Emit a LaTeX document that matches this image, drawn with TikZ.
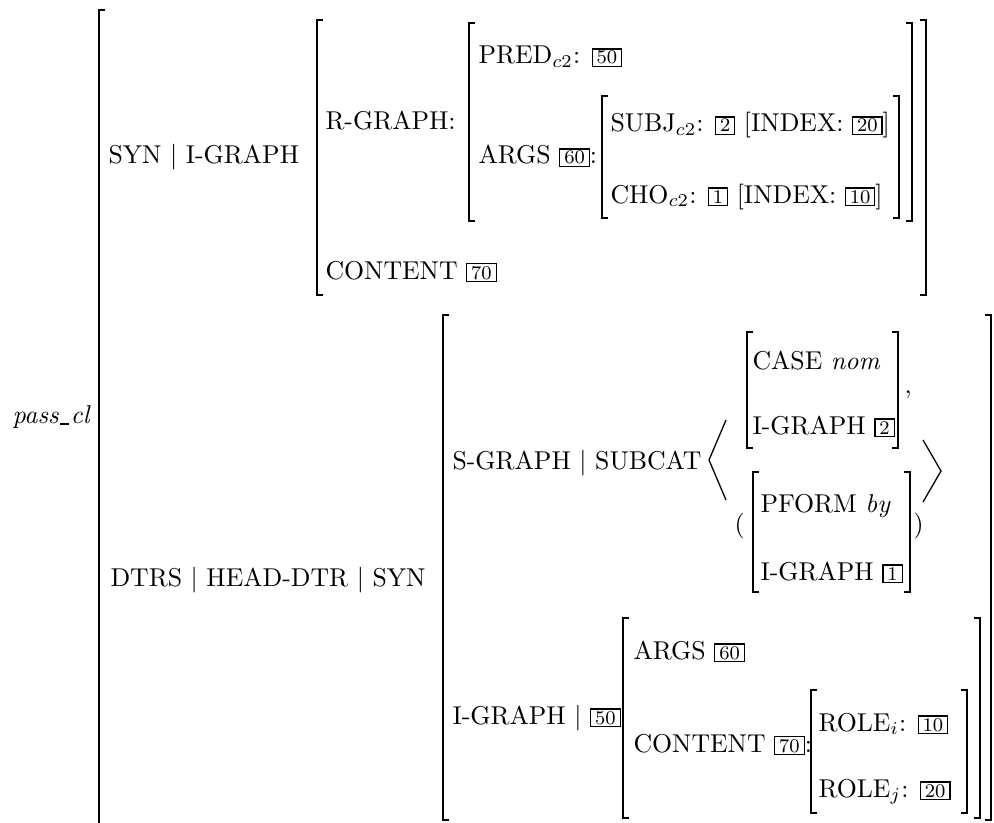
\documentclass[tikz,border=0pt]{standalone}
\newcommand{\avmtag}[1]{{\setlength{\fboxsep}{0.6pt}\setlength{\fboxrule}{0.45pt}\fbox{\kern0.9pt\fontsize{7.5}{8}\selectfont #1\kern0.9pt}}}
\newcommand{\avmL}[3]{\draw[brk] ({#1+6},#2) -- (#1,#2) -- (#1,#3) -- ({#1+6},#3);}
\newcommand{\avmR}[3]{\draw[brk] ({#1-6},#2) -- (#1,#2) -- (#1,#3) -- ({#1-6},#3);}
\tikzset{avm/.style={anchor=base west,inner sep=0pt},
  brk/.style={line width=0.75pt},
  ang/.style={line width=0.5pt}}
\begin{document}
\begin{tikzpicture}[x=0.388pt,y=-0.388pt]
	\useasboundingbox (0,0) rectangle (994,823);
	\node[avm] (passcl) at (12,423) {\textit{pass\kern0.6pt\rule[-0.6pt]{3.6pt}{0.45pt}\kern0.6pt cl}};
	\draw[brk] (105,10) -- (99,10) -- (99,823);
	% SYN part
	\node[avm] (synig) at (108,164) {SYN $|$ I-GRAPH};
	\avmL{317}{20}{295}
	\avmR{926}{20}{295}
	\node[avm] (rgraph) at (325,129) {R-GRAPH:};
	\avmL{469}{23}{221}
	\avmR{912}{23}{221}
	\node[avm] (pred) at (478,64) {PRED$_{c2}$: \avmtag{50}};
	\node[avm] (args) at (478,164) {ARGS \avmtag{60}:};
	\avmL{602}{96}{218}
	\avmR{899}{96}{218}
	\node[avm] (subj) at (610,132) {SUBJ$_{c2}$: \avmtag{2} [INDEX: \avmtag{20}]};
	\node[avm] (cho) at (610,203) {CHO$_{c2}$: \avmtag{1} [INDEX: \avmtag{10}]};
	\node[avm] (content) at (325,279) {CONTENT \avmtag{70}};
	% DTRS part
	\node[avm] (dtrs) at (110,586) {DTRS $|$ HEAD-DTR $|$ SYN};
	\avmL{443}{315}{820}
	\avmR{991}{315}{820}
	\node[avm] (sgraph) at (452,469) {S-GRAPH $|$ SUBCAT};
	\draw[ang] (726,420) -- (709,460) -- (726,500);
	\draw[ang] (923,440) -- (941,471) -- (923,502);
	\avmL{747}{332}{448}
	\avmR{898}{332}{448}
	\node[avm] (case) at (752,369) {CASE \textit{nom}};
	\node[avm] (igtwo) at (752,434) {I-GRAPH \avmtag{2}};
	\node[avm] (comma) at (904,393) {,};
	\node[avm] (lpar) at (734,532) {(};
	\avmL{753}{472}{592}
	\avmR{910}{472}{592}
	\node[avm] (pform) at (760,512) {PFORM \textit{by}};
	\node[avm] (igone) at (760,580) {I-GRAPH \avmtag{1}};
	\node[avm] (rpar) at (913,532) {)};
	\node[avm] (igfifty) at (452,724) {I-GRAPH $|$ \avmtag{50}};
	\avmL{623}{618}{818}
	\avmR{980}{618}{818}
	\node[avm] (argslow) at (633,659) {ARGS \avmtag{60}};
	\node[avm] (contlow) at (633,752) {CONTENT \avmtag{70}:};
	\avmL{811}{690}{813}
	\avmR{967}{690}{813}
	\node[avm] (rolei) at (818,731) {ROLE$_i$: \avmtag{10}};
	\node[avm] (rolej) at (818,797) {ROLE$_j$: \avmtag{20}};
\end{tikzpicture}
\end{document}
